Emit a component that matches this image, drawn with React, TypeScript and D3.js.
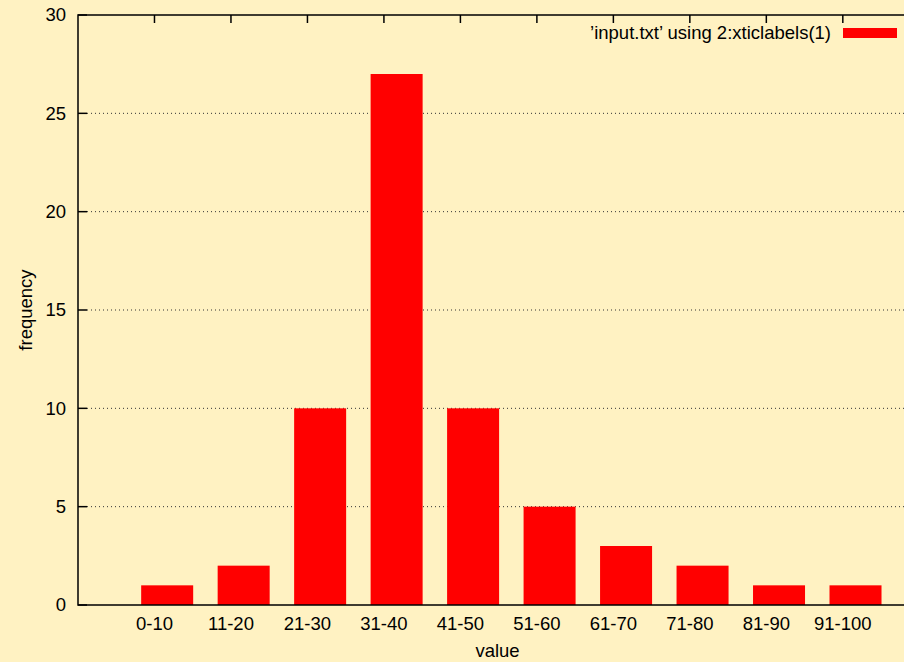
import React from 'react';
import * as d3 from 'd3';

const categories = ['0-10', '11-20', '21-30', '31-40', '41-50', '51-60', '61-70', '71-80', '81-90', '91-100'];
const frequency = [1, 2, 10, 27, 10, 5, 3, 2, 1, 1];
const yTicks = [0, 5, 10, 15, 20, 25, 30];
const legendLabel = "\u2019input.txt\u2019 using 2:xticlabels(1)";

const W = 904;
const H = 662;
const left = 78;
const right = 917;
const top = 15;
const bottom = 605;
const font = "'Liberation Sans', Arial, Helvetica, sans-serif";
const fs = 18.5;

export default function App() {
  const x = d3.scaleLinear().domain([-1, 9.97]).range([left, right]);
  const y = d3.scaleLinear().domain([0, 30]).range([bottom, top]);
  const barOffset = 0.166;
  const barWidth = x(0.68) - x(0);
  const topTicks = d3.range(0, 10);

  return (
    <svg
      width={W}
      height={H}
      style={{ position: 'absolute', left: 0, top: 0, background: '#fff2c2' }}
      fontFamily={font}
    >
      <rect x={0} y={0} width={W} height={H} fill="#fff2c2" />

      {/* grid lines */}
      {yTicks
        .filter((t) => t > 0 && t < 30)
        .map((t) => (
          <line
            key={'g' + t}
            x1={left + 9}
            x2={right}
            y1={y(t)}
            y2={y(t)}
            stroke="#333"
            strokeWidth={1}
            strokeDasharray="1,3"
          />
        ))}

      {/* bars */}
      {frequency.map((v, i) => (
        <rect
          key={categories[i]}
          x={x(i + barOffset) - barWidth / 2}
          y={y(v)}
          width={barWidth}
          height={y(0) - y(v)}
          fill="#ff0000"
        />
      ))}

      {/* border */}
      <path
        d={`M${right},${top}H${left}V${bottom}H${right}`}
        fill="none"
        stroke="#000"
        strokeWidth={1.5}
      />

      {/* y ticks */}
      {yTicks.map((t) => (
        <g key={'y' + t}>
          <line x1={left} x2={left + 9} y1={y(t)} y2={y(t)} stroke="#000" strokeWidth={1.5} />
          <text x={66} y={y(t)} dy="0.35em" textAnchor="end" fontSize={fs} fill="#000">
            {t}
          </text>
        </g>
      ))}

      {/* top ticks */}
      {topTicks.map((t) => (
        <line key={'t' + t} x1={x(t)} x2={x(t)} y1={top} y2={top + 8} stroke="#000" strokeWidth={1.5} />
      ))}

      {/* x labels */}
      {categories.map((c, i) => (
        <text key={'x' + c} x={x(i)} y={630} textAnchor="middle" fontSize={fs} fill="#000">
          {c}
        </text>
      ))}

      <text x={(left + right) / 2} y={657} textAnchor="middle" fontSize={fs} fill="#000">
        value
      </text>
      <text
        transform={`translate(32,${(top + bottom) / 2}) rotate(-90)`}
        textAnchor="middle"
        fontSize={fs}
        fill="#000"
      >
        frequency
      </text>

      {/* legend */}
      <text x={831} y={39} textAnchor="end" fontSize={fs} fill="#000">
        {legendLabel}
      </text>
      <rect x={843} y={28} width={54} height={10} fill="#ff0000" />
    </svg>
  );
}
